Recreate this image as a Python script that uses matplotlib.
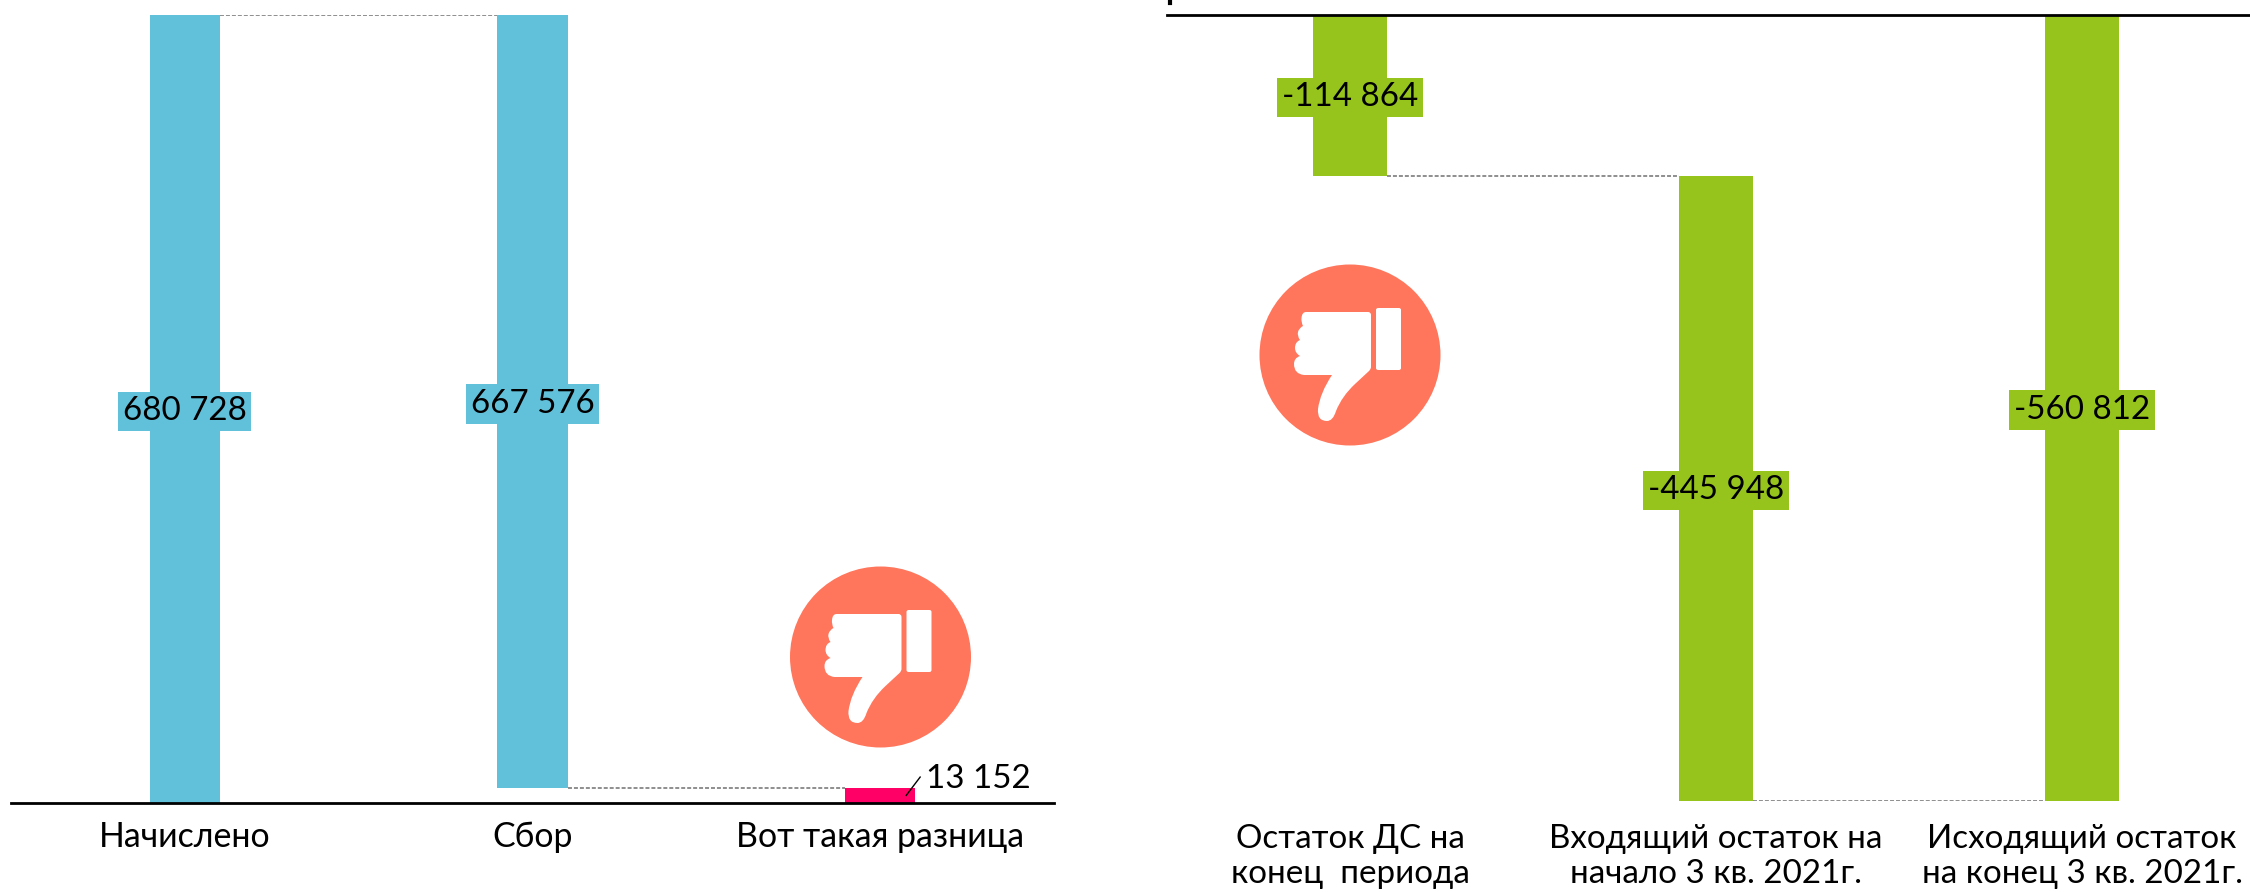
import matplotlib
matplotlib.use("Agg")
import matplotlib.pyplot as plt
from matplotlib.path import Path
from matplotlib.patches import PathPatch, Circle, FancyBboxPatch
from matplotlib.transforms import Affine2D, offset_copy

plt.rcParams['font.family'] = ['Lato', 'Open Sans', 'DejaVu Sans']

W, H = 2250, 892
left_categories = ["Начислено", "Сбор", "Вот такая разница"]
left_values = [680728, 667576, 13152]
left_labels = ["680 728", "667 576", "13 152"]
right_categories = ["Остаток ДС на\nконец  периода", "Входящий остаток на\nначало 3 кв. 2021г.", "Исходящий остаток\nна конец 3 кв. 2021г."]
right_values = [-114864, -445948, -560812]
right_labels = ["-114 864", "-445 948", "-560 812"]

BLUE, PINK, GREEN, CORAL = "#62C1DA", "#FF0066", "#97C41C", "#FF765C"
GREY = "#707070"
DASH = (0, (2.6, 1.3))
FS = 23.9
FS_LEFT = 24.4

fig = plt.figure(figsize=(W/100, H/100), dpi=100, facecolor="white")

def axes_px(x0, y0, x1, y1):
    ax = fig.add_axes([x0/W, 1-y1/H, (x1-x0)/W, (y1-y0)/H])
    ax.axis("off")
    return ax

# ---- left waterfall
axl = axes_px(11, 15, 1054, 803)
axl.set_xlim(-0.5, 2.5)
axl.set_ylim(0, left_values[0])
bw = 70/347.5
axl.bar(0, left_values[0], bw, color=BLUE)
axl.bar(1, left_values[1], bw, bottom=left_values[2], color=BLUE)
axl.bar(2, left_values[2], bw, color=PINK)
axl.plot([0+bw/2, 1-bw/2], [left_values[0]]*2, color=GREY, lw=1.1, ls=DASH)
axl.plot([1+bw/2, 2-bw/2], [left_values[2]]*2, color=GREY, lw=1.1, ls=DASH)
axl.axhline(0, color="black", lw=2, clip_on=False)
left_mids = [left_values[0]/2, left_values[2]+left_values[1]/2]
tl = offset_copy(axl.transData, fig=fig, y=-2.5, units="dots")
for i in range(2):
    axl.text(i, left_mids[i], left_labels[i], ha="center", va="center", fontsize=FS, color="black",
             transform=tl, bbox=dict(boxstyle="square,pad=0.14", fc=BLUE, ec="none"))
axl.plot([2.075, 2.115], [left_values[2]/2, 22400], color="black", lw=1)
axl.text(2.132, 21000, left_labels[2], fontsize=FS, color="black", ha="left", va="center")
for i, c in enumerate(left_categories):
    axl.text(i, -29500, c, ha="center", va="center", fontsize=FS_LEFT, color="black")

# ---- right waterfall
axr = axes_px(1167, 15, 2250, 801)
cr = (1350 - 1167) / 366
axr.set_xlim(-cr, -cr + (2250-1167)/366)
axr.set_ylim(right_values[2], 0)
bw = 74/366
axr.bar(0, right_values[0], bw, color=GREEN)
axr.bar(1, right_values[1], bw, bottom=right_values[0], color=GREEN)
axr.bar(2, right_values[2], bw, color=GREEN)
axr.plot([0+bw/2, 1-bw/2], [right_values[0]]*2, color=GREY, lw=1.1, ls=DASH)
axr.plot([1+bw/2, 2-bw/2], [right_values[2]]*2, color=GREY, lw=1.1, ls=DASH)
axr.axhline(0, color="black", lw=2, clip_on=False)
mids = [right_values[0]/2, right_values[0]+right_values[1]/2, right_values[2]/2]
tr = offset_copy(axr.transData, fig=fig, y=-2, units="dots")
for i in range(3):
    axr.text(i, mids[i], right_labels[i], ha="center", va="center", fontsize=FS, color="black",
             transform=tr, bbox=dict(boxstyle="square,pad=0.14", fc=GREEN, ec="none"))
for i, c in enumerate(right_categories):
    axr.text(i, -600500, c, ha="center", va="center", fontsize=FS, color="black", linespacing=1.2)

# small clipped fragment at the top edge of the right panel
fig.add_artist(plt.Line2D([1170/W, 1170/W], [1, 1-3/H], color="black", lw=3))

# ---- thumbs-down badge, drawn in pixel space (icon decoration)
px = Affine2D().scale(1, -1).translate(0, H)
def badge(cx, cy):
    t = Affine2D().translate(cx, cy) + px
    fig.add_artist(Circle((0, 0), 90.5, fc=CORAL, ec="none", transform=t))
    fig.add_artist(FancyBboxPatch((27, -46), 23, 60, boxstyle="round,pad=1,rounding_size=2",
                                  fc="white", ec="none", transform=t))
    M, L, Q = Path.MOVETO, Path.LINETO, Path.CURVE3
    v = [(-44, -43), (18, -43),
         (21, -43), (21, -40), (21, 12),
         (21, 14), (19, 16), (5, 29),
         (-8, 41), (-14, 56), (-17, 66), (-23, 66), (-33, 66), (-32, 54), (-30, 38), (-18, 20),
         (-46, 20), (-56, 19), (-56, 9), (-56, 3), (-50, 1),
         (-55, -2), (-55, -7), (-55, -13), (-50, -15),
         (-53, -19), (-52, -23), (-51, -27), (-47, -29),
         (-49, -33), (-48.5, -37), (-48, -43), (-44, -43)]
    c = [M, L,
         Q, Q, L,
         Q, Q, L,
         Q, Q, Q, Q, Q, Q, Q, Q,
         L, Q, Q, Q, Q,
         Q, Q, Q, Q,
         Q, Q, Q, Q,
         Q, Q, Q, Q]
    fig.add_artist(PathPatch(Path(v, c), fc="white", ec="none", transform=t))

badge(880.5, 657)
badge(1350, 355)

fig.savefig("out.png", dpi=100, facecolor="white")
